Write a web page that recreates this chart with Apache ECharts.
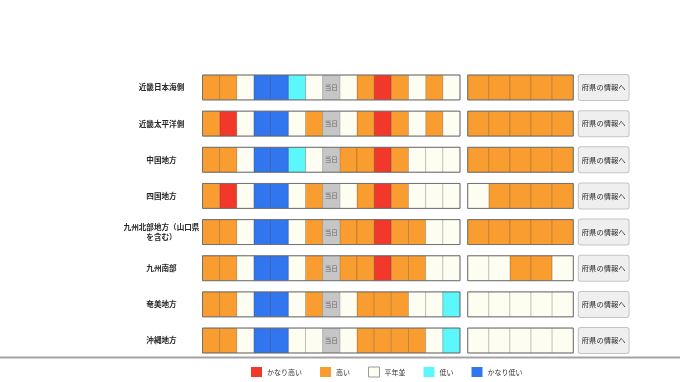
<!DOCTYPE html>
<html>
<head>
<meta charset="utf-8">
<script src="https://cdn.jsdelivr.net/npm/echarts@6/dist/echarts.min.js"></script>
<style>
html,body{margin:0;padding:0;background:#fff;}
#chart{width:680px;height:382px;}
</style>
</head>
<body>
<div id="chart"></div>
<script>
// Region names (y categories)
const regions = ['近畿日本海側', '近畿太平洋側', '中国地方', '四国地方', '九州北部地方（山口県\nを含む）', '九州南部', '奄美地方', '沖縄地方'];
// Day slots of the first block and week slots of the second block
const daySlots = ['1','2','3','4','5','6','7','8','9','10','11','12','13','14','15'];
const weekSlots = ['w1','w2','w3','w4','w5'];
// Levels (legend) : 0 かなり高い, 1 高い, 2 平年並, 3 低い, 4 かなり低い, 'T' = 当日
const levels = ['かなり高い', '高い', '平年並', '低い', 'かなり低い'];
const levelColors = ['#f2372b', '#f99d30', '#fdfdf1', '#5cf7fa', '#3176ee'];
// Daily codes (first block)
const dailyCodes = [
  [1,1,2,4,4,3,2,'T',2,1,0,1,2,1,2],
  [1,0,2,4,4,2,1,'T',2,1,0,1,2,1,2],
  [1,1,2,4,4,3,2,'T',1,1,0,1,2,2,2],
  [1,0,2,4,4,2,1,'T',2,1,0,1,2,2,2],
  [1,1,2,4,4,2,1,'T',1,1,0,1,1,2,2],
  [1,1,2,4,4,2,1,'T',1,1,0,1,1,2,2],
  [1,1,2,4,4,2,1,'T',2,1,1,1,2,2,3],
  [1,1,2,4,4,2,2,'T',2,1,1,1,1,2,3]
];
// Weekly codes (second block)
const weeklyCodes = [
  [1,1,1,1,1],
  [1,1,1,1,1],
  [1,1,1,1,1],
  [2,1,1,1,1],
  [1,1,1,1,1],
  [2,2,1,1,2],
  [2,2,2,2,2],
  [2,2,2,2,2]
];
const todayLabel = '当日';
const buttonLabel = '府県の情報へ';

const FONT = '"Noto Sans CJK JP", "Noto Sans", sans-serif';
const CELL_FRAC = 0.69;
const LABEL_GAP = 41;
const LABEL_LINE_H = 10.5;

function cellRender(params, api) {
  const c = api.coord([api.value(0), api.value(1)]);
  const s = api.size([1, 1]);
  const h = s[1] * CELL_FRAC;
  return {
    type: 'rect',
    shape: {x: c[0] - s[0] / 2, y: c[1] - h / 2, width: s[0], height: h},
    style: {fill: api.visual('color'), stroke: 'rgba(0,0,0,0.17)', lineWidth: 1}
  };
}
function todayRender(params, api) {
  const c = api.coord([api.value(0), api.value(1)]);
  const s = api.size([1, 1]);
  const h = s[1] * CELL_FRAC;
  return {
    type: 'group',
    children: [
      {type: 'rect', shape: {x: c[0] - s[0] / 2, y: c[1] - h / 2, width: s[0], height: h},
       style: {fill: '#c6c6c6', stroke: 'rgba(0,0,0,0.12)', lineWidth: 1}},
      {type: 'text', style: {text: todayLabel, x: c[0], y: c[1], align: 'center', verticalAlign: 'middle',
        fontSize: 6.5, fill: '#6a6a6a', fontFamily: FONT}}
    ]
  };
}
function outlineRender(nCols) {
  return function (params, api) {
    const y = api.value(1);
    const a = api.coord([0, y]);
    const b = api.coord([nCols - 1, y]);
    const s = api.size([1, 1]);
    const h = s[1] * CELL_FRAC;
    return {
      type: 'rect',
      shape: {x: a[0] - s[0] / 2, y: a[1] - h / 2, width: b[0] - a[0] + s[0], height: h},
      style: {fill: null, stroke: '#707070', lineWidth: 1}
    };
  };
}
function regionLabelRender(params, api) {
  const a = api.coord([0, api.value(1)]);
  const s = api.size([1, 1]);
  const lines = regions[params.dataIndex].split('\n');
  const x = a[0] - s[0] / 2 - LABEL_GAP;
  const y0 = a[1] - (lines.length - 1) * LABEL_LINE_H / 2;
  return {
    type: 'group',
    children: lines.map((l, k) => ({
      type: 'text',
      style: {text: l, x: x, y: y0 + k * LABEL_LINE_H,
        align: 'center', verticalAlign: 'middle', fontSize: 7.6, fontWeight: 'bold',
        fill: '#2a2a2a', fontFamily: FONT}
    }))
  };
}

const series = [];
levels.forEach((name, lv) => {
  const d1 = [], d2 = [];
  dailyCodes.forEach((row, r) => row.forEach((v, c) => { if (v === lv) d1.push([c, r, v]); }));
  weeklyCodes.forEach((row, r) => row.forEach((v, c) => { if (v === lv) d2.push([c, r, v]); }));
  series.push({name, type: 'custom', coordinateSystem: 'cartesian2d', xAxisIndex: 0, yAxisIndex: 0,
    itemStyle: {color: levelColors[lv]}, renderItem: cellRender, data: d1, silent: true, z: 2});
  series.push({name, type: 'custom', coordinateSystem: 'cartesian2d', xAxisIndex: 1, yAxisIndex: 1,
    itemStyle: {color: levelColors[lv]}, renderItem: cellRender, data: d2, silent: true, z: 2});
});
const todayData = [];
dailyCodes.forEach((row, r) => row.forEach((v, c) => { if (v === 'T') todayData.push([c, r]); }));
series.push({name: todayLabel, type: 'custom', coordinateSystem: 'cartesian2d', xAxisIndex: 0, yAxisIndex: 0,
  renderItem: todayRender, data: todayData, silent: true, z: 2});
series.push({name: 'outline1', type: 'custom', coordinateSystem: 'cartesian2d', xAxisIndex: 0, yAxisIndex: 0,
  renderItem: outlineRender(daySlots.length), data: regions.map((r, i) => [0, i]), silent: true, z: 5});
series.push({name: 'outline2', type: 'custom', coordinateSystem: 'cartesian2d', xAxisIndex: 1, yAxisIndex: 1,
  renderItem: outlineRender(weekSlots.length), data: regions.map((r, i) => [0, i]), silent: true, z: 5});
series.push({name: 'regionLabels', type: 'custom', coordinateSystem: 'cartesian2d', xAxisIndex: 0, yAxisIndex: 0,
  renderItem: regionLabelRender, data: regions.map((r, i) => [0, i]), silent: true, z: 5, clip: false});

const chart = echarts.init(document.getElementById('chart'), null, {renderer: 'canvas'});
chart.setOption({
  animation: false,
  backgroundColor: '#ffffff',
  textStyle: {fontFamily: FONT},
  grid: [
    {left: 202.5, top: 69.4, width: 257.5, height: 289.2},
    {left: 467.7, top: 69.4, width: 105.6, height: 289.2}
  ],
  xAxis: [
    {type: 'category', gridIndex: 0, data: daySlots, show: false},
    {type: 'category', gridIndex: 1, data: weekSlots, show: false}
  ],
  yAxis: [
    {type: 'category', gridIndex: 0, data: regions, inverse: true,
      axisLine: {show: false}, axisTick: {show: false}, splitLine: {show: false},
      axisLabel: {show: false}},
    {type: 'category', gridIndex: 1, data: regions, inverse: true, position: 'right',
      axisLine: {show: false}, axisTick: {show: false}, splitLine: {show: false},
      axisLabel: {formatter: () => buttonLabel, margin: 5.5, fontSize: 7.3, color: '#2a2a2a', fontFamily: FONT,
        backgroundColor: '#efefef', borderColor: '#c4c4c4', borderWidth: 1, borderRadius: 2,
        padding: [8, 3, 8, 3], lineHeight: 9}}
  ],
  legend: {
    left: 246, top: 361.5, itemWidth: 11, itemHeight: 10, itemGap: 18,
    icon: 'rect', selectedMode: false,
    textStyle: {fontSize: 7, color: '#333', fontFamily: FONT},
    data: levels.map((name, i) => ({name, itemStyle: {color: levelColors[i], borderColor: i === 2 ? '#9a9a9a' : levelColors[i], borderWidth: i === 2 ? 1 : 0}}))
  },
  graphic: [
    {type: 'line', shape: {x1: 0, y1: 357.5, x2: 680, y2: 357.5}, style: {stroke: '#a3a3a3', lineWidth: 2}, silent: true}
  ],
  series
});
</script>
</body>
</html>
